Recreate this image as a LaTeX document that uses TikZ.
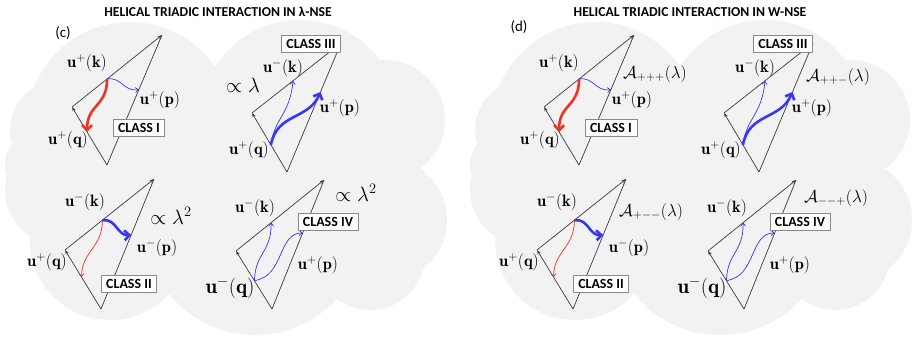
\documentclass[tikz,border=0pt]{standalone}
\usepackage{amsmath,amssymb}
\usepackage{fontspec}
\newfontfamily\calfont{Carlito}
\usetikzlibrary{arrows.meta,positioning,calc}
\definecolor{Ink}{HTML}{3A3A3A}
\definecolor{Cloud}{HTML}{F2F2F2}
\definecolor{Frame}{HTML}{8A8A8A}
\definecolor{Flux}{HTML}{3636F4}
\definecolor{Back}{HTML}{EE3325}
\tikzset{
  cloud/.style={fill=Cloud,draw=none},
  side/.style={draw=Ink,line width=.7bp},
  vec/.style={side,-{Stealth[length=4.5bp,width=3.2bp]}},
  thinflux/.style={draw=Flux,line width=.7bp,-{Straight Barb[length=3bp,width=5bp]}},
  thickflux/.style={draw=Flux,line width=2.6bp,-{Straight Barb[length=5bp,width=10bp]}},
  thinback/.style={draw=Back,line width=.7bp,-{Straight Barb[length=3bp,width=5bp]}},
  thickback/.style={draw=Back,line width=2.6bp,-{Straight Barb[length=5bp,width=10bp]}},
  cls/.style={draw=Frame,line width=.8bp,fill=white,inner xsep=5bp,inner ysep=3.5bp,
    font=\calfont\bfseries\fontsize{14}{16}\selectfont},
  lbl/.style={inner sep=0pt,font=\fontsize{16.5}{18}\selectfont},
  biglbl/.style={inner sep=0pt,font=\fontsize{21}{23}\selectfont},
  rate/.style={inner sep=0pt,font=\fontsize{20}{22}\selectfont},
  amp/.style={inner sep=0pt,font=\fontsize{18.5}{20}\selectfont},
  heading/.style={inner sep=0pt,font=\calfont\bfseries\fontsize{13.7}{15}\selectfont},
  tag/.style={inner sep=0pt,font=\calfont\fontsize{15}{17}\selectfont}
}

\begin{document}
\begin{tikzpicture}[x=1bp,y=-1bp]
  \useasboundingbox[fill=white] (0,0) rectangle (912,339);
  % clouds
  \foreach \dx in {0,465}{
    \begin{scope}[xshift=\dx bp]
      \fill[cloud] (130,125) circle[radius=103bp] (300,120) circle[radius=100bp]
        (385,120) circle[radius=60bp] (385,220) circle[radius=62bp]
        (60,190) circle[radius=55bp] (110,240) circle[radius=80bp]
        (255,225) circle[radius=110bp] (370,255) circle[radius=55bp]
        (60,130) circle[radius=50bp] (40,165) circle[radius=35bp];
    \end{scope}
  }
  % both panels
  \foreach \pn/\dx/\ttl/\tx/\ty in {c/0/{HELICAL TRIADIC INTERACTION IN λ-NSE}/63/33,
      d/472/{HELICAL TRIADIC INTERACTION IN W-NSE}/47/27}{
    \begin{scope}[xshift=\dx bp]
      \node[heading] (title\pn) at (218,12) {\ttl};
      \node[tag] (tag\pn) at (\tx,\ty) {(\pn)};
      % class I
      \coordinate (It\pn) at (162,35);
      \coordinate (Il\pn) at (72,107);
      \coordinate (Ib\pn) at (107,165);
      \coordinate (Ik\pn) at ($(Il\pn)!.39!(It\pn)$);
      \coordinate (Ip\pn) at ($(Ib\pn)!.58!(It\pn)$);
      \coordinate (Iq\pn) at ($(Ib\pn)!.57!(Il\pn)$);
      \draw[vec] (Ib\pn) -- (Il\pn);
      \draw[vec] (Il\pn) -- (It\pn);
      \draw[side] (Ib\pn) -- (It\pn);
      \draw[thickback] (Ik\pn) .. controls +(0,28) and +(0,-28) .. (Iq\pn);
      \draw[thinflux] (Ik\pn) .. controls +(15,-2) and +(-16,2) .. (Ip\pn);
      \node[cls] (clsI\pn) at (139,128) {CLASS I};
      \node[lbl] (ukI\pn) at (87,63) {$\mathbf{u}^{+}(\mathbf{k})$};
      \node[lbl] (upI\pn) at (160,100) {$\mathbf{u}^{+}(\mathbf{p})$};
      \node[lbl] (uqI\pn) at (68,140) {$\mathbf{u}^{+}(\mathbf{q})$};
      % class III
      \coordinate (IIIt\pn) at (341,43);
      \coordinate (IIIl\pn) at (252,113);
      \coordinate (IIIb\pn) at (287,172);
      \coordinate (IIIk\pn) at ($(IIIl\pn)!.46!(IIIt\pn)$);
      \coordinate (IIIp\pn) at ($(IIIb\pn)!.62!(IIIt\pn)$);
      \coordinate (IIIq\pn) at ($(IIIb\pn)!.46!(IIIl\pn)$);
      \draw[vec] (IIIb\pn) -- (IIIl\pn);
      \draw[vec] (IIIl\pn) -- (IIIt\pn);
      \draw[side] (IIIb\pn) -- (IIIt\pn);
      \draw[thinflux] (IIIq\pn) .. controls +(4,-28) and +(-3,34) .. (IIIk\pn);
      \draw[thickflux] (IIIq\pn) .. controls +(6,-32) and +(-12,28) .. (IIIp\pn);
      \node[cls] (clsIII\pn) at (311,44) {CLASS III};
      \node[lbl] (ukIII\pn) at (283,68) {$\mathbf{u}^{-}(\mathbf{k})$};
      \node[lbl] (upIII\pn) at (340,108) {$\mathbf{u}^{+}(\mathbf{p})$};
      \node[lbl] (uqIII\pn) at (249,150) {$\mathbf{u}^{+}(\mathbf{q})$};
      % class II
      \coordinate (IIt\pn) at (154,179);
      \coordinate (IIl\pn) at (65,250);
      \coordinate (IIb\pn) at (101,309);
      \coordinate (IIk\pn) at ($(IIl\pn)!.42!(IIt\pn)$);
      \coordinate (IIp\pn) at ($(IIb\pn)!.57!(IIt\pn)$);
      \coordinate (IIq\pn) at ($(IIb\pn)!.54!(IIl\pn)$);
      \draw[vec] (IIb\pn) -- (IIl\pn);
      \draw[vec] (IIl\pn) -- (IIt\pn);
      \draw[side] (IIb\pn) -- (IIt\pn);
      \draw[thinback] (IIk\pn) .. controls +(0,28) and +(0,-26) .. (IIq\pn);
      \draw[thickflux] (IIk\pn) .. controls +(14,-2) and +(-14,1) .. (IIp\pn);
      \node[cls] (clsII\pn) at (129,284) {CLASS II};
      \node[lbl] (ukII\pn) at (85,202) {$\mathbf{u}^{-}(\mathbf{k})$};
      \node[lbl] (upII\pn) at (157,248) {$\mathbf{u}^{-}(\mathbf{p})$};
      \node[lbl] (uqII\pn) at (47,262) {$\mathbf{u}^{+}(\mathbf{q})$};
      % class IV
      \coordinate (IVt\pn) at (324,180);
      \coordinate (IVl\pn) at (236,251);
      \coordinate (IVb\pn) at (272,309);
      \coordinate (IVk\pn) at ($(IVl\pn)!.4!(IVt\pn)$);
      \coordinate (IVp\pn) at ($(IVb\pn)!.59!(IVt\pn)$);
      \coordinate (IVq\pn) at ($(IVb\pn)!.49!(IVl\pn)$);
      \draw[vec] (IVb\pn) -- (IVl\pn);
      \draw[vec] (IVl\pn) -- (IVt\pn);
      \draw[side] (IVb\pn) -- (IVt\pn);
      \draw[thinflux] (IVq\pn) .. controls +(1,-28) and +(0,30) .. (IVk\pn);
      \draw[thinflux] (IVq\pn) .. controls +(30,-4) and +(-25,0) .. (IVp\pn);
      \node[cls] (clsIV\pn) at (328,222) {CLASS IV};
      \node[lbl] (ukIV\pn) at (255,208) {$\mathbf{u}^{-}(\mathbf{k})$};
      \node[lbl] (upIV\pn) at (318,265) {$\mathbf{u}^{+}(\mathbf{p})$};
      \node[biglbl] (uqIV\pn) at (230,288) {$\mathbf{u}^{-}(\mathbf{q})$};
    \end{scope}
  }
  % lambda-NSE scalings
  \node[rate] (rateIII) at (243,85) {$\propto\lambda$};
  \node[rate] (rateII) at (171,216) {$\propto\lambda^2$};
  \node[rate] (rateIV) at (356,193) {$\propto\lambda^2$};
  % W-NSE amplitudes
  \node[amp] (ampI) at (655,74) {$\mathcal{A}_{+++}(\lambda)$};
  \node[amp] (ampIII) at (838,77) {$\mathcal{A}_{++-}(\lambda)$};
  \node[amp] (ampII) at (651,212) {$\mathcal{A}_{+--}(\lambda)$};
  \node[amp] (ampIV) at (836,198) {$\mathcal{A}_{--+}(\lambda)$};
\end{tikzpicture}
\end{document}
